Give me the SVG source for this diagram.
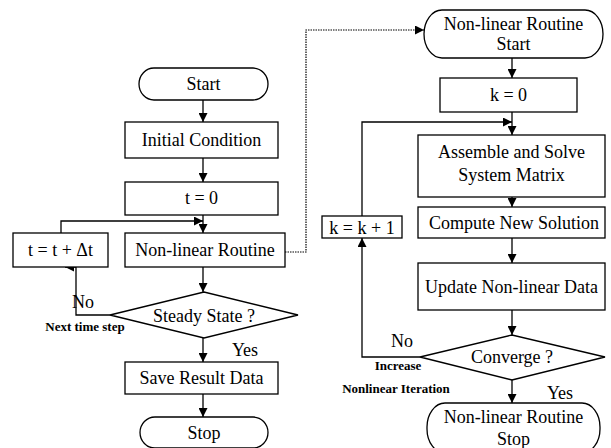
<svg xmlns="http://www.w3.org/2000/svg" width="611" height="448" viewBox="0 0 611 448">
<defs>
<marker id="ah" viewBox="0 0 10 10" refX="10" refY="5" markerWidth="10" markerHeight="9" markerUnits="userSpaceOnUse" orient="auto">
<path d="M0,0 L10,5 L0,10 z" fill="#000"/>
</marker>
<style>
.b{fill:#fff;stroke:#000;stroke-width:1.3}
.t{font-family:"Liberation Serif","Times New Roman",serif;font-size:18px;fill:#000;text-anchor:middle}
.s{font-family:"Liberation Serif","Times New Roman",serif;font-size:13px;font-weight:bold;fill:#000;text-anchor:middle}
.c{fill:none;stroke:#000;stroke-width:1.3}
.d{fill:none;stroke:#000;stroke-width:1.2;stroke-dasharray:1.5 1}
</style>
</defs>
<rect width="611" height="448" fill="#fff"/>
<g id="connectors">
<path class="c" d="M203,100 V122" marker-end="url(#ah)"/>
<path class="c" d="M203,158 V182" marker-end="url(#ah)"/>
<path class="c" d="M203,215 V233" marker-end="url(#ah)"/>
<path class="c" d="M61,233 V221 H203" marker-end="url(#ah)"/>
<path class="c" d="M203,267 V292" marker-end="url(#ah)"/>
<path class="c" d="M110,315 H76 V267 H65" marker-end="url(#ah)"/>
<path class="c" d="M203,338 V362" marker-end="url(#ah)"/>
<path class="c" d="M203,394 V417" marker-end="url(#ah)"/>
<path class="d" d="M285,252 H306 V30 H424" marker-end="url(#ah)"/>
<path class="c" d="M512,58 V78" marker-end="url(#ah)"/>
<path class="c" d="M512,112 V135" marker-end="url(#ah)"/>
<path class="c" d="M362,216 V122 H512" marker-end="url(#ah)"/>
<path class="c" d="M512,197 V207" marker-end="url(#ah)"/>
<path class="c" d="M512,238 V263" marker-end="url(#ah)"/>
<path class="c" d="M512,310 V335" marker-end="url(#ah)"/>
<path class="c" d="M420,357 H362 V238" marker-end="url(#ah)"/>
<path class="c" d="M512,380 V403" marker-end="url(#ah)"/>
</g>
<g id="start"><rect class="b" x="139" y="68" width="129" height="32" rx="15" ry="16"/><text class="t" x="203.5" y="90">Start</text></g>
<g id="init"><rect class="b" x="125" y="122" width="153" height="36"/><text class="t" x="201.5" y="146">Initial Condition</text></g>
<g id="t0"><rect class="b" x="125" y="182" width="153" height="33"/><text class="t" x="201.5" y="204">t = 0</text></g>
<g id="nlr"><rect class="b" x="125" y="233" width="160" height="34"/><text class="t" x="205" y="256">Non-linear Routine</text></g>
<g id="tinc"><rect class="b" x="13" y="233" width="95" height="34"/><text class="t" x="60.5" y="256">t = t + Δt</text></g>
<g id="steady"><path class="b" d="M110,315 L204,292 L298,315 L204,338 z"/><text class="t" x="204" y="322">Steady State ?</text></g>
<g id="save"><rect class="b" x="125" y="362" width="153" height="32"/><text class="t" x="201.5" y="384">Save Result Data</text></g>
<g id="stop"><rect class="b" x="140" y="417" width="128" height="31" rx="15" ry="15.5"/><text class="t" x="204" y="439">Stop</text></g>
<g id="labels-left">
<text class="t" x="83" y="308">No</text>
<text class="s" x="85" y="331">Next time step</text>
<text class="t" x="245" y="356">Yes</text>
</g>
<g id="nlstart"><rect class="b" x="424" y="10" width="179" height="48" rx="18" ry="24"/><text class="t" x="513.5" y="30">Non-linear Routine</text><text class="t" x="513.5" y="50">Start</text></g>
<g id="k0"><rect class="b" x="440" y="78" width="137" height="34"/><text class="t" x="508.5" y="101">k = 0</text></g>
<g id="assemble"><rect class="b" x="418" y="135" width="187" height="62"/><text class="t" x="511.5" y="158">Assemble and Solve</text><text class="t" x="511.5" y="181">System Matrix</text></g>
<g id="compute"><rect class="b" x="418" y="207" width="187" height="31"/><text class="t" x="514" y="229">Compute New Solution</text></g>
<g id="kinc"><rect class="b" x="322" y="216" width="80" height="22"/><text class="t" x="362" y="234">k = k + 1</text></g>
<g id="update"><rect class="b" x="418" y="263" width="187" height="47"/><text class="t" x="511.5" y="293">Update Non-linear Data</text></g>
<g id="converge"><path class="b" d="M420,357 L512,335 L605,357 L512,380 z"/><text class="t" x="512" y="363">Converge ?</text></g>
<g id="nlstop"><rect class="b" x="427" y="403" width="173" height="50" rx="18" ry="24"/><text class="t" x="513.5" y="423">Non-linear Routine</text><text class="t" x="513.5" y="445">Stop</text></g>
<g id="labels-right">
<text class="t" x="402" y="347">No</text>
<text class="s" x="398" y="370">Increase</text>
<text class="s" x="396" y="393">Nonlinear Iteration</text>
<text class="t" x="560" y="399">Yes</text>
</g>
</svg>
